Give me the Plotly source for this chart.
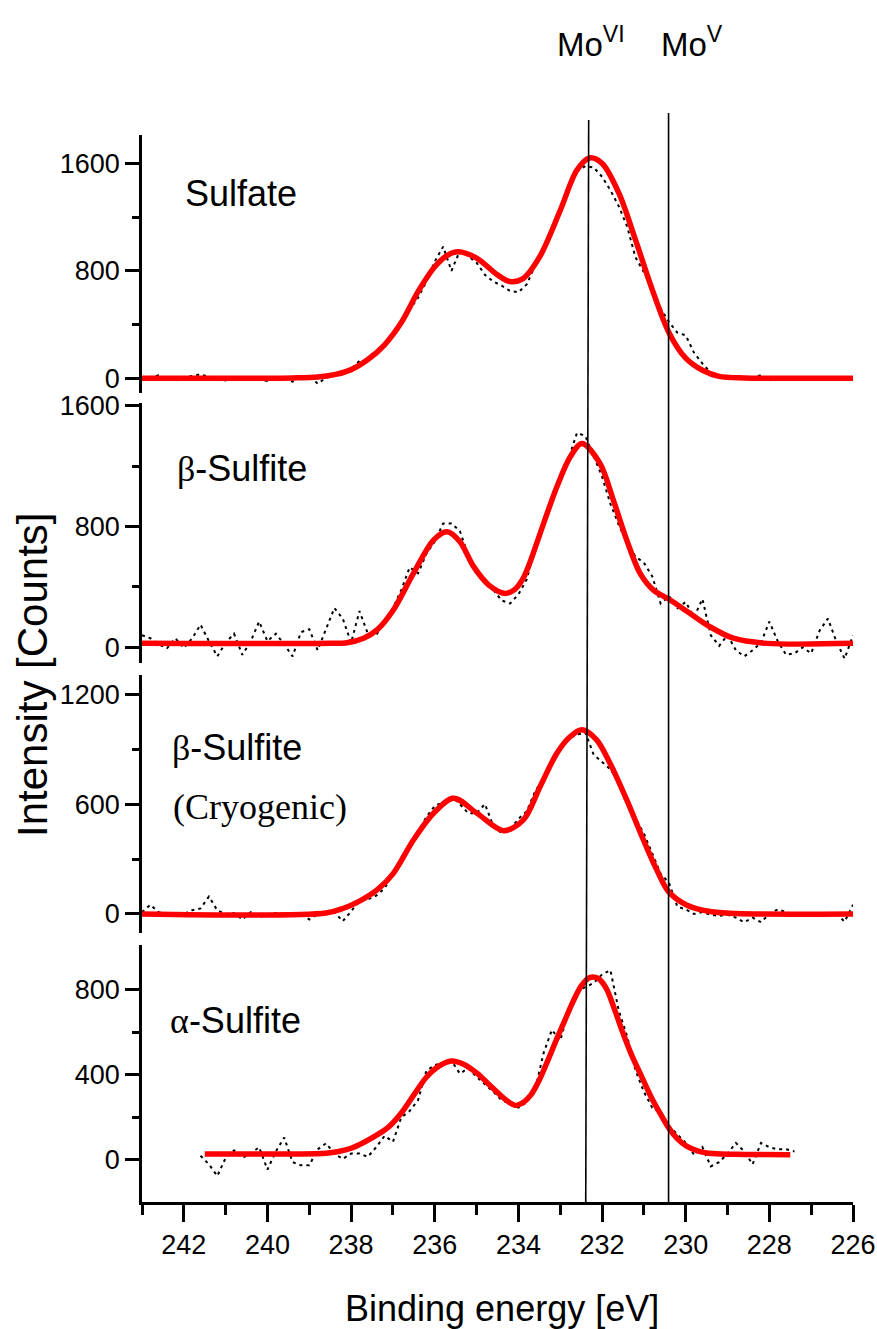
import plotly.graph_objects as go

# ---------------- data ----------------
energy = [243.0, 242.8, 242.6, 242.4, 242.2, 242.0, 241.8, 241.6, 241.4, 241.2,
          241.0, 240.8, 240.6, 240.4, 240.2, 240.0, 239.8, 239.6, 239.4, 239.2,
          239.0, 238.8, 238.6, 238.4, 238.2, 238.0, 237.8, 237.6, 237.4, 237.2,
          237.0, 236.8, 236.6, 236.4, 236.2, 236.0, 235.8, 235.6, 235.4, 235.2,
          235.0, 234.8, 234.6, 234.4, 234.2, 234.0, 233.8, 233.6, 233.4, 233.2,
          233.0, 232.8, 232.6, 232.4, 232.2, 232.0, 231.8, 231.6, 231.4, 231.2,
          231.0, 230.8, 230.6, 230.4, 230.2, 230.0, 229.8, 229.6, 229.4, 229.2,
          229.0, 228.8, 228.6, 228.4, 228.2, 228.0, 227.8, 227.6, 227.4, 227.2,
          227.0, 226.8, 226.6, 226.4, 226.2, 226.0]

sulfate_counts = [0, 10, 22, -5, -15, 5, 15, 30, 10, -5,
                  -15, 5, 0, 5, -10, -20, 10, 0, -25, 5,
                  20, -40, 5, 20, 30, 70, 130, 130, 190, 250,
                  340, 410, 510, 600, 720, 870, 980, 800, 950, 910,
                  860, 770, 720, 690, 650, 640, 700, 840, 950, 1100,
                  1250, 1420, 1540, 1580, 1570, 1500, 1400, 1280, 1130, 900,
                  790, 660, 520, 420, 340, 320, 190, 110, 40, 15,
                  5, 0, 5, 0, 25, -15, 0, 5, 0, -5,
                  0, 5, 0, 0, 5, 0]

beta_counts = [80, 60, 20, -5, 60, -5, 60, 150, 40, -60,
               30, 90, -50, 40, 170, 40, 90, 20, -60, 100,
               120, -20, 120, 260, 190, 30, 240, 90, 80, 180,
               260, 380, 530, 490, 620, 700, 820, 820, 770, 610,
               480, 440, 380, 310, 290, 350, 450, 660, 800, 960,
               1120, 1250, 1420, 1400, 1260, 1130, 950, 810, 690, 600,
               560, 470, 290, 340, 260, 300, 200, 320, 80, 10,
               80, -20, -60, -20, 30, 170, 40, -50, -40, 0,
               -40, 110, 190, 40, -75, 80]

beta_cryo_counts = [10, 50, 10, 0, 5, 0, 20, 30, 95, 20,
                    0, 5, -30, 10, -20, 0, 5, 0, 5, 0,
                    -30, 0, 15, 10, -40, 15, 70, 80, 100, 140,
                    220, 290, 370, 450, 530, 590, 610, 640, 600, 550,
                    550, 600, 480, 440, 460, 520, 560, 670, 740, 830,
                    910, 955, 980, 990, 870, 830, 790, 720, 630, 520,
                    440, 330, 220, 170, 40, 25, 0, 10, -5, -10,
                    -5, -20, -45, -20, -45, 0, 25, 10, -5, 0,
                    0, 0, 5, 0, -42, 50]

alpha_energy = [241.6, 241.4, 241.2, 241.0, 240.8, 240.6, 240.4, 240.2, 240.0, 239.8,
                239.6, 239.4, 239.2, 239.0, 238.8, 238.6, 238.4, 238.2, 238.0, 237.8,
                237.6, 237.4, 237.2, 237.0, 236.8, 236.6, 236.4, 236.2, 236.0, 235.8,
                235.6, 235.4, 235.2, 235.0, 234.8, 234.6, 234.4, 234.2, 234.0, 233.8,
                233.6, 233.4, 233.2, 233.0, 232.8, 232.6, 232.4, 232.2, 232.0, 231.8,
                231.6, 231.4, 231.2, 231.0, 230.8, 230.6, 230.4, 230.2, 230.0, 229.8,
                229.6, 229.4, 229.2, 229.0, 228.8, 228.6, 228.4, 228.2, 228.0, 227.8,
                227.6, 227.4]

alpha_counts = [20, -20, -75, 10, 45, 10, 30, 60, -45, 40,
                105, -10, -25, -25, 50, 78, 30, 5, 30, 30,
                15, 60, 113, 85, 200, 230, 280, 419, 445, 455,
                465, 405, 430, 390, 356, 320, 280, 265, 246, 270,
                330, 500, 610, 560, 700, 790, 810, 830, 870, 890,
                700, 580, 420, 320, 245, 220, 160, 120, 80, 25,
                60, -30, -10, 30, 80, 40, -20, 80, 60, 50,
                50, 40]

# fitted envelopes (red)
sulfate_fit_energy = [243.0, 240.0, 239.4, 238.8, 238.4, 238.0, 237.6, 237.2, 236.8, 236.4,
                      236.0, 235.7, 235.45, 235.0, 234.5, 234.2, 233.9, 233.5, 233.0, 232.6,
                      232.3, 232.0, 231.6, 231.2, 230.8, 230.4, 230.0, 229.6, 229.2, 228.6,
                      228.0, 226.0]
sulfate_fit = [0, 0, 3, 10, 28, 65, 140, 250, 415, 645,
               830, 915, 942, 895, 770, 720, 740, 900, 1250, 1550,
               1640, 1600, 1380, 1030, 660, 340, 150, 60, 15, 3,
               0, 0]

beta_fit_energy = [243.0, 238.5, 238.1, 237.7, 237.38, 236.99, 236.51, 236.03, 235.71, 235.4,
                   235.07, 234.7, 234.32, 234.1, 233.88, 233.7, 233.48, 233.08, 232.76, 232.48,
                   232.05, 231.73, 231.41, 231.09, 230.77, 230.37, 229.9, 229.42, 228.86, 228.06,
                   226.0]
beta_fit = [26, 26, 30, 60, 115, 247, 490, 710, 765, 700,
            534, 410, 357, 380, 460, 580, 755, 1063, 1262, 1350,
            1218, 975, 710, 490, 379, 313, 225, 136, 60, 26,
            26]

beta_cryo_fit_energy = [243.0, 238.6, 238.18, 237.8, 237.38, 236.99, 236.51, 236.03, 235.55, 234.99,
                        234.36, 233.88, 233.48, 233.08, 232.76, 232.48, 232.13, 231.81, 231.41, 231.01,
                        230.69, 230.41, 229.98, 229.42, 228.8, 226.0]
beta_cryo_fit = [0, 5, 31, 70, 131, 222, 404, 550, 632, 550,
                 455, 514, 696, 878, 969, 1006, 951, 823, 623, 404,
                 240, 122, 49, 13, 2, 0]

alpha_fit_energy = [241.5, 238.6, 238.3, 238.0, 237.7, 237.4, 237.1, 236.8, 236.5, 236.2,
                    235.9, 235.6, 235.3, 235.0, 234.6, 234.3, 234.08, 233.9, 233.7, 233.5,
                    233.3, 233.1, 232.9, 232.7, 232.5, 232.3, 232.1, 231.9, 231.7, 231.5,
                    231.3, 231.04, 230.8, 230.6, 230.41, 230.2, 229.99, 229.7, 229.35, 228.6,
                    227.5]
alpha_fit = [28, 32, 40, 55, 82, 115, 155, 220, 305, 388,
             440, 464, 448, 408, 335, 282, 256, 268, 305, 375,
             465, 560, 650, 740, 815, 855, 852, 805, 705, 595,
             495, 385, 285, 215, 152, 100, 66, 42, 30, 26,
             25]

panel_labels = ["Sulfate", "β-Sulfite", "β-Sulfite", "α-Sulfite"]
mo_lines = [232.36, 230.41]
x_ticks = [242, 240, 238, 236, 234, 232, 230, 228, 226]
x_minor = [243, 241, 239, 237, 235, 233, 231, 229, 227]
y_major = [[0, 800, 1600], [0, 800, 1600], [0, 600, 1200], [0, 400, 800]]
y_minor = [[400, 1200], [400, 1200], [300, 900], [200, 600]]

# ---------------- layout helpers ----------------
W, H = 877, 1329
SANS = "Liberation Sans, Arial, sans-serif"
SERIF = "Liberation Serif, Times New Roman, serif"


def px(x):
    return x / W


def py(y):
    return 1 - y / H


x_left, x_right = 142, 853
panel_px = [(135, 393), (403, 663), (675, 933), (945, 1202)]
y_ranges = [[-109, 1811], [-104, 1618], [-104, 1305], [-197, 1008]]

fig = go.Figure()

series = [
    (energy, sulfate_counts, sulfate_fit_energy, sulfate_fit),
    (energy, beta_counts, beta_fit_energy, beta_fit),
    (energy, beta_cryo_counts, beta_cryo_fit_energy, beta_cryo_fit),
    (alpha_energy, alpha_counts, alpha_fit_energy, alpha_fit),
]
for i, (ex, cy, fx, fy) in enumerate(series):
    yref = "y" if i == 0 else f"y{i + 1}"
    fig.add_trace(go.Scatter(x=ex, y=cy, mode="lines", xaxis="x", yaxis=yref,
                             line=dict(color="black", width=2, dash="3px,4px"),
                             showlegend=False, hoverinfo="skip"))
    fig.add_trace(go.Scatter(x=fx, y=fy, mode="lines", xaxis="x", yaxis=yref,
                             line=dict(color="#ff0000", width=5.5, shape="spline", smoothing=0.9),
                             showlegend=False, hoverinfo="skip"))

axis_common = dict(showgrid=False, zeroline=False, showline=True, linecolor="black",
                   linewidth=2.5, ticks="outside", tickcolor="black", tickwidth=2.5,
                   automargin=False)

layout = dict(
    width=W, height=H,
    margin=dict(l=0, r=0, t=0, b=0, autoexpand=False),
    paper_bgcolor="white", plot_bgcolor="rgba(0,0,0,0)",
    showlegend=False,
    xaxis=dict(domain=[px(x_left), px(x_right)], range=[243, 226], anchor="y4",
               tickvals=x_ticks, ticklen=17,
               tickfont=dict(family=SANS, size=27, color="black"),
               minor=dict(tickvals=x_minor, ticklen=10, ticks="outside", tickwidth=2.5,
                          tickcolor="black", showgrid=False),
               **axis_common),
)
for i, (top, bot) in enumerate(panel_px):
    name = "yaxis" if i == 0 else f"yaxis{i + 1}"
    layout[name] = dict(domain=[py(bot), py(top)], range=y_ranges[i], anchor="x",
                        tickvals=y_major[i], ticklen=14,
                        tickfont=dict(family=SANS, size=27, color="black"),
                        minor=dict(tickvals=y_minor[i], ticklen=7, ticks="outside", tickwidth=2.5,
                                   tickcolor="black", showgrid=False),
                        **axis_common)
fig.update_layout(**layout)

# Mo reference lines
fig.add_shape(type="line", xref="x", yref="paper", x0=mo_lines[0] + 0.03, x1=mo_lines[0] - 0.04,
              y0=py(1202), y1=py(120), line=dict(color="black", width=1.6), layer="above")
fig.add_shape(type="line", xref="x", yref="paper", x0=mo_lines[1], x1=mo_lines[1],
              y0=py(1202), y1=py(113), line=dict(color="black", width=1.6), layer="above")

ann = []
ann.append(dict(text="Mo<sup>VI</sup>", x=px(555), y=py(42), xref="paper", yref="paper",
                xanchor="left", yanchor="middle", showarrow=False,
                font=dict(family=SANS, size=33, color="black")))
ann.append(dict(text="Mo<sup>V</sup>", x=px(659), y=py(42), xref="paper", yref="paper",
                xanchor="left", yanchor="middle", showarrow=False,
                font=dict(family=SANS, size=33, color="black")))

greek = "<span style='font-family:Liberation Serif, Times New Roman, serif'>{}</span>{}"
label_pos = [(183, 193), (175, 468), (170, 748), (168, 1020)]
for i, lab in enumerate(panel_labels):
    if lab[0] in "αβ":
        txt = greek.format(lab[0], lab[1:])
    else:
        txt = lab
    ann.append(dict(text=txt, x=px(label_pos[i][0]), y=py(label_pos[i][1]), xref="paper", yref="paper",
                    xanchor="left", yanchor="middle", showarrow=False,
                    font=dict(family=SANS, size=36, color="black")))
ann.append(dict(text="(Cryogenic)", x=px(171), y=py(807), xref="paper", yref="paper",
                xanchor="left", yanchor="middle", showarrow=False,
                font=dict(family=SERIF, size=36, color="black")))

ann.append(dict(text="Binding energy [eV]", x=px(502), y=py(1308), xref="paper", yref="paper",
                xanchor="center", yanchor="middle", showarrow=False,
                font=dict(family=SANS, size=36, color="black")))
ann.append(dict(text="Intensity [Counts]", x=px(32), y=py(675), xref="paper", yref="paper",
                xanchor="center", yanchor="middle", showarrow=False, textangle=-90,
                font=dict(family=SANS, size=42, color="black")))
fig.update_layout(annotations=ann)

fig.write_html("out.html", config={"displayModeBar": False},
               post_script="document.body.style.margin='0';document.body.style.padding='0';")
